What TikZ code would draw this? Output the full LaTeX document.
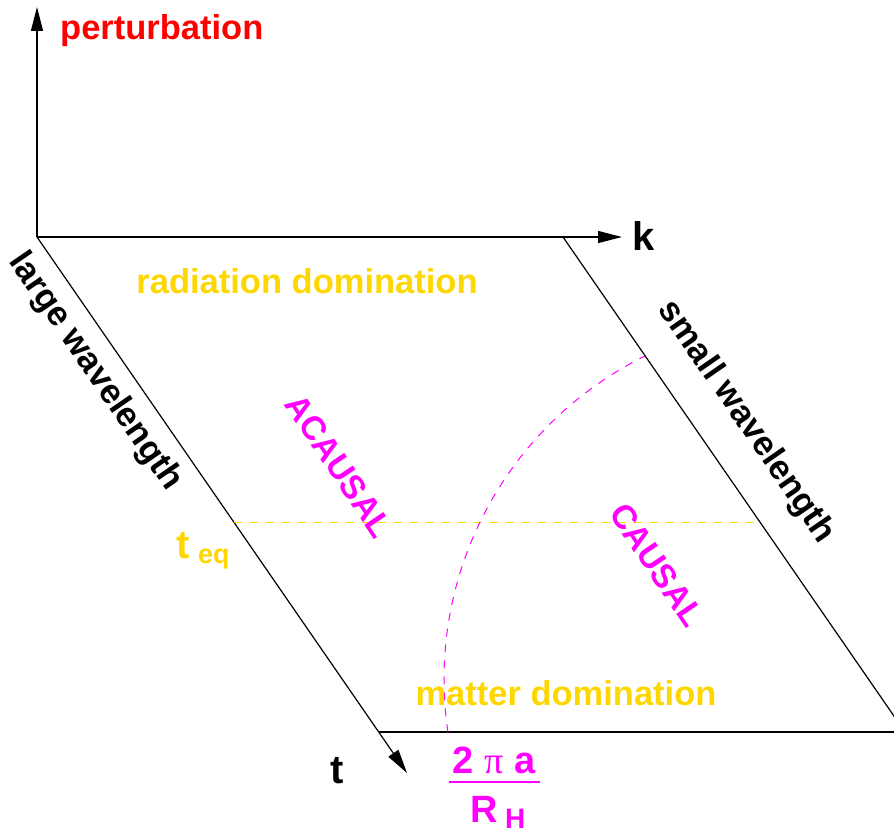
\documentclass[tikz,border=0pt]{standalone}
\usepackage{fontspec}
\setmainfont{Liberation Sans}
\newfontfamily\pifont{Liberation Serif}
\usetikzlibrary{arrows.meta}
\definecolor{gold}{RGB}{255,215,0}
\definecolor{mag}{RGB}{255,0,255}
\definecolor{pred}{RGB}{255,0,0}
\begin{document}
\begin{tikzpicture}[x=1pt,y=-1pt,
  axis/.style={line width=1.2pt,-{Triangle[length=24pt,width=12pt]}},
  edge/.style={line width=1.2pt},
  golddash/.style={gold,line width=1pt,dash pattern=on 8pt off 8pt},
  magdash/.style={mag,line width=1pt,dash pattern=on 8pt off 8pt},
  big/.style={inner sep=0pt,font=\fontsize{34.5}{40}\selectfont\bfseries},
  huge/.style={inner sep=0pt,font=\fontsize{40}{46}\selectfont\bfseries},
  causal/.style={inner sep=0pt,mag,rotate=-56,font=\fontsize{33.5}{38}\selectfont\bfseries}]
\useasboundingbox (0,0) rectangle (894,829);
\clip (0,0) rectangle (894,829);
% frame points
\coordinate (O) at (37,237);
\coordinate (P) at (37,7);
\coordinate (K) at (622,237);
\coordinate (T) at (407,773);
\coordinate (TR) at (563,237);
\coordinate (BL) at (378.7,732);
\coordinate (BR) at (905,732);
\coordinate (EL) at (234,522);
\coordinate (ER) at (760,522);
% axes
\draw[axis] (O) -- (P);
\draw[axis] (O) -- (K);
\draw[axis] (O) -- (T);
% parallelogram
\draw[edge] (TR) -- (BR);
\draw[edge] (BL) -- (BR);
% t_eq line
\draw[golddash] (EL) -- (ER);
% horizon arc
\draw[magdash] plot[domain=171.5:243.8,samples=80] ({804+360*cos(\x)},{679+360*sin(\x)});
% labels
\node[big,pred,anchor=base west] (pert) at (60,40) {perturbation};
\node[huge,anchor=base west] (klab) at (632,251) {k};
\node[huge,anchor=base] (tlab) at (337,783) {t};
\node[big,gold,anchor=base] (rad) at (307,293) {radiation domination};
\node[big,gold,anchor=base] (mat) at (566,705) {matter domination};
\node[big,rotate=-55.4] (large) at (95,372) {large wavelength};
\node[big,rotate=-55.4] (small) at (746,422) {small wavelength};
\node[causal] (acausal) at (339,466) {ACAUSAL};
\node[causal] (causal) at (657,565) {CAUSAL};
\node[huge,gold,anchor=base west] (teq) at (176,558) {t};
\node[inner sep=0pt,gold,anchor=base west,font=\fontsize{27}{32}\selectfont\bfseries] (eq) at (198,563) {eq};
% fraction
\node[inner sep=0pt,mag,anchor=base,font=\fontsize{38}{44}\selectfont\bfseries] (num) at (494,773) {2 {\pifont\mdseries π} a};
\coordinate (fl) at (449,782);
\coordinate (fr) at (540,782);
\draw[mag,line width=1.5pt] (fl) -- (fr);
\node[inner sep=0pt,mag,anchor=base,font=\fontsize{38}{44}\selectfont\bfseries] (den) at (484,822) {R};
\node[inner sep=0pt,mag,anchor=base west,font=\fontsize{28}{32}\selectfont\bfseries] (sub) at (505,828) {H};
\end{tikzpicture}
\end{document}
